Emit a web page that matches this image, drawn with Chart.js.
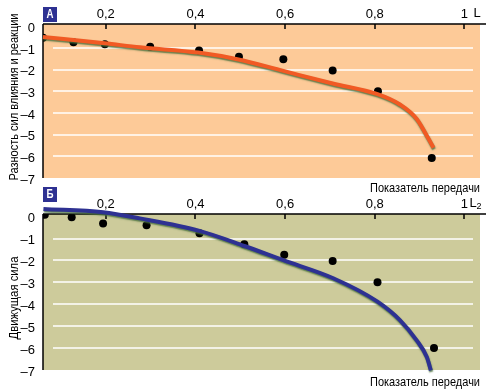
<!DOCTYPE html>
<html>
<head>
<meta charset="utf-8">
<script src="https://cdn.jsdelivr.net/npm/chart.js@4/dist/chart.umd.min.js"></script>
<style>
  body { margin: 0; background: #fff; }
  #wrap { position: relative; width: 486px; height: 392px; }
  canvas { position: absolute; left: 0; }
</style>
</head>
<body>
<div id="wrap">
  <canvas id="chartA" width="486" height="196" style="top:0"></canvas>
  <canvas id="chartB" width="486" height="210" style="top:182px"></canvas>
</div>
<script>
// Оси
const xTicks = [0.2, 0.4, 0.6, 0.8, 1];
const yTicks = [0, -1, -2, -3, -4, -5, -6, -7];

// Панель А: точки и сглаженная кривая
const pointsA_x = [0.06, 0.128, 0.198, 0.299, 0.408, 0.497, 0.596, 0.706, 0.807, 0.927];
const pointsA_y = [-0.51, -0.72, -0.82, -0.93, -1.11, -1.39, -1.51, -2.03, -2.99, -6.07];
const curveA_x = [0.06, 0.198, 0.276, 0.406, 0.496, 0.596, 0.706, 0.806, 0.856, 0.894, 0.916, 0.931];
const curveA_y = [-0.48, -0.77, -0.96, -1.2, -1.52, -2.05, -2.63, -3.12, -3.6, -4.28, -5.05, -5.6];

// Панель Б
const pointsB_x = [0.064, 0.124, 0.194, 0.291, 0.409, 0.509, 0.598, 0.706, 0.806, 0.932];
const pointsB_y = [0.09, -0.03, -0.31, -0.39, -0.76, -1.26, -1.74, -2.03, -3.0, -6.0];
const curveB_x = [0.061, 0.194, 0.276, 0.409, 0.509, 0.596, 0.706, 0.806, 0.856, 0.893, 0.916, 0.925];
const curveB_y = [0.35, 0.2, -0.08, -0.65, -1.34, -1.99, -2.8, -3.88, -4.72, -5.64, -6.41, -7.02];

const FONT = "'Liberation Sans', Arial, sans-serif";

const toXY = (xs, ys) => xs.map((x, i) => ({ x: x, y: ys[i] }));

// узкий шрифт: сжимаем текст по ширине до нужной длины
function narrowText(ctx, text, x, y, width, align) {
    const w = ctx.measureText(text).width;
    const k = width / w;
    ctx.save();
    ctx.translate(x, y);
    ctx.scale(k, 1);
    ctx.textAlign = align;
    ctx.fillText(text, 0, 0);
    ctx.restore();
}

// фон, сетка, оси, подписи
const panelPlugin = {
    id: 'panel',
    beforeDraw(chart, args, o) {
        const { ctx, chartArea: a, scales: { y } } = chart;
        ctx.save();
        ctx.fillStyle = o.bg;
        ctx.fillRect(a.left, a.top, a.right - a.left, a.bottom - a.top);
        ctx.strokeStyle = '#fff';
        ctx.lineWidth = 1.5;
        yTicks.forEach(v => {
            if (v === 0 || v === -7) return;
            const py = Math.round(y.getPixelForValue(v));
            ctx.beginPath();
            ctx.moveTo(a.left + 10, py);
            ctx.lineTo(a.right - 7, py);
            ctx.stroke();
        });
        ctx.restore();
    },
    beforeDatasetsDraw(chart) {
        const { ctx, chartArea: a, scales: { x } } = chart;
        ctx.save();
        ctx.strokeStyle = '#000';
        ctx.lineWidth = 1.5;
        ctx.beginPath();
        ctx.moveTo(a.left, a.top);
        ctx.lineTo(chart.width, a.top);
        ctx.moveTo(a.left, a.top);
        ctx.lineTo(a.left, a.bottom);
        xTicks.forEach(v => {
            const px = Math.round(x.getPixelForValue(v));
            ctx.moveTo(px, a.top);
            ctx.lineTo(px, a.top + 5);
        });
        ctx.stroke();
        ctx.restore();
    },
    afterDraw(chart, args, o) {
        const { ctx, chartArea: a, scales: { x } } = chart;
        ctx.save();
        // буква панели
        ctx.fillStyle = '#2e3192';
        ctx.fillRect(a.left, o.boxTop, 14, 15);
        ctx.fillStyle = '#fff';
        ctx.font = 'bold 12px ' + FONT;
        ctx.textBaseline = 'middle';
        narrowText(ctx, o.letter, a.left + 7, o.boxTop + 8, 7, 'center');
        // L у единицы
        ctx.fillStyle = '#000';
        ctx.font = '13px ' + FONT;
        ctx.textAlign = 'left';
        const p1 = x.getPixelForValue(1);
        ctx.fillText('L', p1 + o.lGap, a.top - 11);
        if (o.sub) {
            ctx.font = '9px ' + FONT;
            ctx.fillText(o.sub, p1 + o.lGap + 7, a.top - 7);
        }
        // подпись оси X
        ctx.font = '13px ' + FONT;
        narrowText(ctx, 'Показатель передачи', 480, o.xTitleY, 110, 'right');
        // подпись оси Y
        ctx.translate(14, o.yTitleY);
        ctx.rotate(-Math.PI / 2);
        narrowText(ctx, o.yTitle, 0, 0, o.yTitleW, 'center');
        ctx.restore();
    }
};

const shadowPlugin = {
    id: 'lineShadow',
    beforeDatasetDraw(chart, args) {
        if (args.index !== 0) return;
        const ctx = chart.ctx;
        ctx.save();
        ctx.shadowColor = 'rgba(70,110,60,0.85)';
        ctx.shadowOffsetX = 0.5;
        ctx.shadowOffsetY = 1.5;
        ctx.shadowBlur = 1.5;
    },
    afterDatasetDraw(chart, args) {
        if (args.index !== 0) return;
        chart.ctx.restore();
    }
};

function makeChart(id, curve, points, lineColor, panelOpts, padBottom) {
    return new Chart(document.getElementById(id), {
        type: 'scatter',
        data: {
            datasets: [
                {
                    data: curve,
                    showLine: true,
                    borderColor: lineColor,
                    borderWidth: 4,
                    pointRadius: 0,
                    cubicInterpolationMode: 'monotone',
                    clip: false
                },
                {
                    data: points,
                    backgroundColor: '#000',
                    borderColor: '#000',
                    pointRadius: 4,
                    borderWidth: 0
                }
            ]
        },
        options: {
            responsive: false,
            animation: false,
            devicePixelRatio: 1,
            layout: { padding: { left: 0, top: 0, right: 6, bottom: padBottom } },
            plugins: {
                legend: { display: false },
                tooltip: { enabled: false },
                panel: panelOpts
            },
            scales: {
                x: {
                    type: 'linear',
                    position: 'top',
                    min: 0.06,
                    max: 1.0346,
                    grid: { display: false, drawTicks: false },
                    border: { display: false },
                    afterBuildTicks: s => { s.ticks = xTicks.map(v => ({ value: v })); },
                    afterFit: s => { s.height = panelOpts.axisTop; },
                    ticks: {
                        color: '#000',
                        padding: 2,
                        maxRotation: 0,
                        font: { family: FONT, size: 13 },
                        callback: v => String(v).replace('.', ',')
                    }
                },
                y: {
                    type: 'linear',
                    min: -7,
                    max: 0.12,
                    grid: { display: false, drawTicks: false },
                    border: { display: false },
                    afterBuildTicks: s => { s.ticks = yTicks.map(v => ({ value: v })); },
                    afterFit: s => { s.width = 43; },
                    ticks: {
                        color: '#000',
                        padding: 8,
                        labelOffset: 2,
                        font: { family: FONT, size: 13 },
                        callback: v => v === 0 ? '0' : '\u2013' + Math.abs(v)
                    }
                }
            }
        },
        plugins: [panelPlugin, shadowPlugin]
    });
}

makeChart('chartA', toXY(curveA_x, curveA_y), toXY(pointsA_x, pointsA_y), '#f15a24', {
    bg: '#fdca98', letter: 'А', boxTop: 7, axisTop: 24, lGap: 9, sub: '',
    xTitleY: 188, yTitle: 'Разность сил влияния и реакции', yTitleY: 97, yTitleW: 167
}, 18);

makeChart('chartB', toXY(curveB_x, curveB_y), toXY(pointsB_x, pointsB_y), '#2e3192', {
    bg: '#cdcb9b', letter: 'Б', boxTop: 5, axisTop: 32, lGap: 5, sub: '2',
    xTitleY: 200, yTitle: 'Движущая сила', yTitleY: 116, yTitleW: 83
}, 22);
</script>
</body>
</html>
